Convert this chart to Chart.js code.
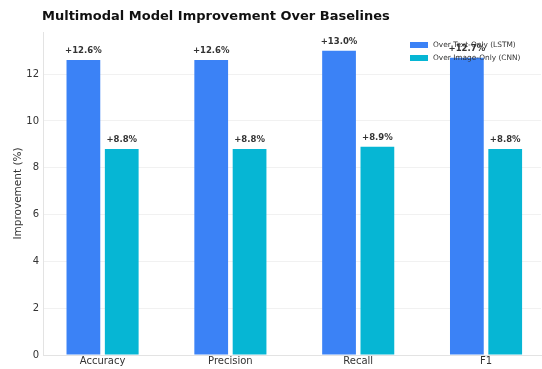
<!DOCTYPE html>
<html>
<head>
<meta charset="utf-8">
<script src="https://cdn.jsdelivr.net/npm/chart.js@4"></script>
<style>
  html, body { margin: 0; padding: 0; background: #fff; overflow: hidden; }
  #wrap { width: 542px; height: 369px; }
</style>
</head>
<body>
<div id="wrap"><canvas id="grafica"></canvas></div>
<script>
// datos
const categorias = ["Accuracy", "Precision", "Recall", "F1"];
const sobreTexto = [12.6, 12.6, 13.0, 12.7];   // Over Text-Only (LSTM)
const sobreImagen = [8.8, 8.8, 8.9, 8.8];      // Over Image-Only (CNN)
const etiquetasSerie = ["Over Text-Only (LSTM)", "Over Image-Only (CNN)"];
const ticksY = [0, 2, 4, 6, 8, 10, 12];

const titulo = "Multimodal Model Improvement Over Baselines";
const fuente = "'DejaVu Sans', sans-serif";

// etiquetas encima de cada barra
const etiquetasBarras = {
    id: "etiquetasBarras",
    afterDatasetsDraw(chart) {
        const c = chart.ctx;
        c.save();
        c.font = "bold 8.5px " + fuente;
        c.fillStyle = "#333";
        c.textAlign = "center";
        c.textBaseline = "bottom";
        chart.data.datasets.forEach((ds, i) => {
            chart.getDatasetMeta(i).data.forEach((bar, j) => {
                c.fillText("+" + ds.data[j].y.toFixed(1) + "%", bar.x, bar.y - 5);
            });
        });
        c.restore();
    }
};

// titulo y leyenda dibujados a mano (la leyenda va dentro del grafico)
const tituloLeyenda = {
    id: "tituloLeyenda",
    afterDraw(chart) {
        const c = chart.ctx;
        c.save();
        c.font = "bold 13px " + fuente;
        c.fillStyle = "#111";
        c.textBaseline = "middle";
        c.textAlign = "left";
        c.fillText(titulo, 42, 17);

        c.font = "7.4px " + fuente;
        chart.data.datasets.forEach((ds, i) => {
            const y = 45 + i * 13;
            c.fillStyle = ds.backgroundColor;
            c.fillRect(410, y - 3, 18, 6);
            c.fillStyle = "#333";
            c.fillText(ds.label, 433, y);
        });
        c.restore();
    }
};

const ctx = document.getElementById("grafica");
const chart = new Chart(ctx, {
    type: "bar",
    data: {
        datasets: [
            {
                label: etiquetasSerie[0],
                data: sobreTexto.map((v, i) => ({ x: i, y: v })),
                backgroundColor: "#3b82f6",
                borderWidth: 0
            },
            {
                label: etiquetasSerie[1],
                data: sobreImagen.map((v, i) => ({ x: i, y: v })),
                backgroundColor: "#06b6d4",
                borderWidth: 0
            }
        ]
    },
    options: {
        responsive: true,
        maintainAspectRatio: false,
        animation: false,
        categoryPercentage: 0.6,
        barPercentage: 0.88,
        layout: { padding: { top: 32, right: 1, left: 0, bottom: 2 } },
        plugins: {
            legend: { display: false },
            title: { display: false },
            tooltip: { enabled: false }
        },
        scales: {
            x: {
                type: "linear",
                offset: false,
                min: -0.466,
                max: 3.43,
                afterBuildTicks: (s) => { s.ticks = categorias.map((_, i) => ({ value: i })); },
                ticks: {
                    callback: (v) => categorias[v],
                    font: { family: fuente, size: 10 },
                    color: "#333",
                    padding: 0,
                    maxRotation: 0
                },
                grid: { display: false, drawTicks: false, offset: false },
                border: { color: "#e3e3e3" }
            },
            y: {
                min: 0,
                max: 13.8,
                afterBuildTicks: (s) => { s.ticks = ticksY.map(v => ({ value: v })); },
                afterFit: (s) => { s.width = 43; },
                ticks: {
                    font: { family: fuente, size: 10 },
                    color: "#333",
                    padding: 4
                },
                title: {
                    display: true,
                    text: "Improvement (%)",
                    font: { family: fuente, size: 10.5 },
                    color: "#333",
                    padding: { top: 12, bottom: 0 }
                },
                grid: { color: "#f1f1f1", drawTicks: false },
                border: { color: "#e3e3e3" }
            }
        }
    },
    plugins: [etiquetasBarras, tituloLeyenda]
});
</script>
</body>
</html>
